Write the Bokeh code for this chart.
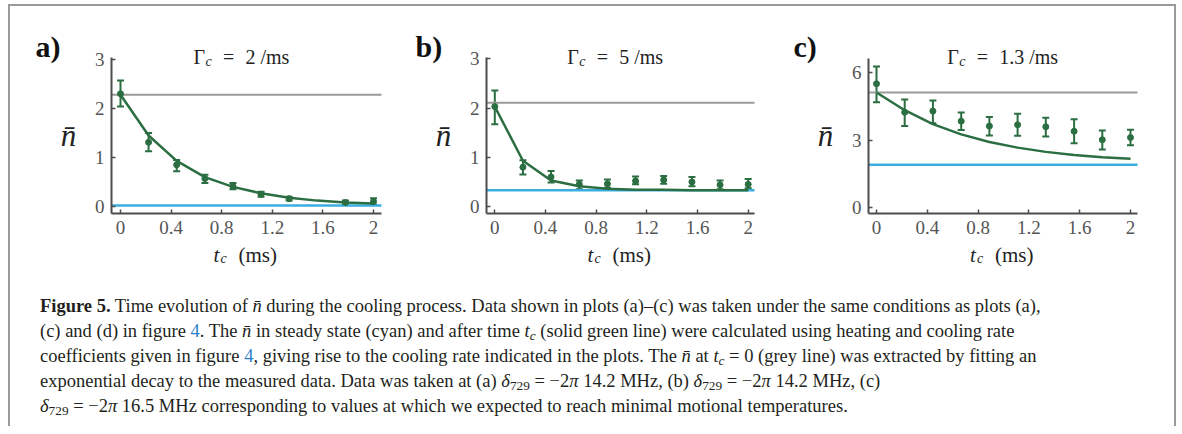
from bokeh.plotting import figure
from bokeh.models import (Whisker, TeeHead, ColumnDataSource, FixedTicker,
                          CustomJSTickFormatter, Label, Div, Range1d)
from bokeh.layouts import row, column
from bokeh.embed import file_html
from bokeh.resources import INLINE

# ---------------- data ----------------
t_all = [0.0, 0.222, 0.444, 0.667, 0.889, 1.111, 1.333, 1.556, 1.778, 2.0]

t_a = [0.0, 0.222, 0.444, 0.667, 0.889, 1.111, 1.333, 1.778, 2.0]
n_a = [2.30, 1.31, 0.85, 0.57, 0.41, 0.25, 0.16, 0.08, 0.10]
lo_a = [2.04, 1.13, 0.72, 0.48, 0.35, 0.20, 0.12, 0.04, 0.04]
hi_a = [2.57, 1.50, 0.95, 0.65, 0.48, 0.30, 0.20, 0.12, 0.17]
curve_a = [2.28, 1.45, 0.93, 0.60, 0.40, 0.27, 0.18, 0.12, 0.08, 0.06]
grey_a = 2.28
cyan_a = 0.02

t_b = t_all
n_b = [2.03, 0.80, 0.60, 0.45, 0.46, 0.52, 0.54, 0.50, 0.44, 0.45]
lo_b = [1.67, 0.65, 0.49, 0.35, 0.38, 0.45, 0.46, 0.41, 0.35, 0.37]
hi_b = [2.36, 0.94, 0.72, 0.53, 0.55, 0.61, 0.62, 0.60, 0.53, 0.56]
curve_b = [2.03, 0.93, 0.53, 0.41, 0.36, 0.34, 0.34, 0.33, 0.33, 0.33]
grey_b = 2.11
cyan_b = 0.33

t_c = t_all
n_c = [5.51, 4.24, 4.29, 3.84, 3.62, 3.68, 3.59, 3.39, 3.01, 3.11]
lo_c = [4.69, 3.63, 3.75, 3.45, 3.20, 3.19, 3.16, 2.86, 2.58, 2.77]
hi_c = [6.28, 4.81, 4.76, 4.23, 4.03, 4.17, 3.99, 3.93, 3.42, 3.46]
curve_c = [5.12, 4.33, 3.71, 3.25, 2.91, 2.66, 2.47, 2.33, 2.23, 2.16]
grey_c = 5.12
cyan_c = 1.90

x_ticks = [0, 0.4, 0.8, 1.2, 1.6, 2.0]
y_ticks_ab = [0, 1, 2, 3]
y_ticks_c = [0, 3, 6]

panel_letters = ["a)", "b)", "c)"]
rates = ["2 /ms", "5 /ms", "1.3 /ms"]

GREEN = "#2b6e42"
CYAN = "#3aaee0"
GREY = "#9a9a9a"
AXIS = "#4d4d4d"
TICKLAB = "#555555"
SERIF = "Liberation Serif"

# page geometry
OY = 6          # top of the figure row (page px)
FIG_H = 270
LAB_DY = -8     # baseline correction for labels


def make_panel(idx, fig_left, fig_right, x0_px, ppm, zero_py, ppu,
               spine_px, right_px, top_py, bottom_py, yt,
               t, n, lo, hi, curve, grey, cyan, gamma_x, letter_x):
    fig_w = fig_right - fig_left
    xr = Range1d((fig_left - x0_px) / ppm, (fig_right - x0_px) / ppm)
    yr = Range1d((zero_py - (OY + FIG_H)) / ppu, (zero_py - OY) / ppu)
    p = figure(width=fig_w, height=FIG_H, x_range=xr, y_range=yr,
               output_backend="svg", toolbar_location=None,
               min_border_left=0, min_border_right=0,
               min_border_top=0, min_border_bottom=0)
    p.outline_line_color = None
    p.grid.visible = False
    p.background_fill_color = "white"
    p.border_fill_color = "white"

    def dx(px):
        return (px - x0_px) / ppm

    def dy(py):
        return (zero_py - py) / ppu

    ax_x = dx(spine_px)
    ax_right = dx(right_px)
    ax_y = dy(bottom_py)
    ax_top = dy(top_py)

    for ax in (p.xaxis[0], p.yaxis[0]):
        ax.axis_line_color = AXIS
        ax.axis_line_width = 2
        ax.major_tick_line_color = AXIS
        ax.major_tick_line_width = 1.5
        ax.major_tick_in = 4
        ax.major_tick_out = 0
        ax.minor_tick_line_color = None
        ax.major_label_text_font = SERIF
        ax.major_label_text_font_size = "19px"
        ax.major_label_text_color = TICKLAB
        ax.major_label_standoff = 7
    p.xaxis.ticker = FixedTicker(ticks=x_ticks)
    p.xaxis.formatter = CustomJSTickFormatter(code="return String(Math.round(tick*10)/10);")
    p.yaxis.ticker = FixedTicker(ticks=yt)
    p.xaxis.fixed_location = ax_y
    p.xaxis.bounds = (ax_x, ax_right)
    p.yaxis.fixed_location = ax_x
    p.yaxis.bounds = (ax_y, ax_top)

    # n at t_c = 0 (grey) and steady state (cyan)
    p.segment(x0=[ax_x], x1=[ax_right], y0=[grey], y1=[grey], line_color=GREY, line_width=2)
    p.segment(x0=[ax_x], x1=[ax_right], y0=[cyan], y1=[cyan], line_color=CYAN, line_width=2.5)

    p.line(t_all, curve, line_color=GREEN, line_width=2.5)
    src = ColumnDataSource(dict(t=t, n=n, lo=lo, hi=hi))
    p.add_layout(Whisker(source=src, base="t", upper="hi", lower="lo",
                         line_color=GREEN, line_width=2,
                         upper_head=TeeHead(size=7, line_color=GREEN, line_width=2),
                         lower_head=TeeHead(size=7, line_color=GREEN, line_width=2)))
    p.scatter("t", "n", source=src, size=6, color=GREEN)

    def lab(text, px, py, size, style="normal", align="left", color="#222222"):
        p.add_layout(Label(x=dx(px), y=dy(py + LAB_DY), text=text, text_font=SERIF,
                           text_font_size=size, text_font_style=style,
                           text_align=align, text_baseline="alphabetic",
                           text_color=color))

    lab(panel_letters[idx], letter_x, 54, "30px", "bold", color="#111111")
    # title  Γ_c = ...
    lab("\u0393", gamma_x, 64.5, "20px")
    lab("c", gamma_x + 12, 68.5, "14px", "italic")
    lab("=", gamma_x + 29.5, 64.5, "20px")
    lab(rates[idx], gamma_x + 52, 64.5, "20px")
    # y label n-bar
    lab("n\u0304", spine_px - 43, 143, "31px", "italic", "center")
    # x label t_c (ms)
    cx = (spine_px + right_px) / 2
    lab("t", cx - 33, 262, "21px", "italic")
    lab("c", cx - 26, 266, "14px", "italic")
    lab("(ms)", cx - 8, 262, "21px")
    return p


pa = make_panel(0, 10, 398, 120, 126.5, 206, 49, 111, 381, 57, 213, y_ticks_ab,
                t_a, n_a, lo_a, hi_a, curve_a, grey_a, cyan_a, 193, 35)
pb = make_panel(1, 398, 778, 494.3, 126.7, 206, 49.2, 486, 754, 57, 213, y_ticks_ab,
                t_b, n_b, lo_b, hi_b, curve_b, grey_b, cyan_b, 566.7, 415)
pc = make_panel(2, 778, 1164, 876, 127, 206.7, 22.4, 868, 1137, 58, 213, y_ticks_c,
                t_c, n_c, lo_c, hi_c, curve_c, grey_c, cyan_c, 946.7, 793)

SUB = "<span style='position:relative; top:0.28em; font-size:0.72em; line-height:0;'>{}</span>"
d = "<i>\u03b4</i>" + SUB.format("729")
tc = "<i>t</i>" + SUB.format("<i>c</i>")
nb = "<i>n\u0304</i>"
four = "<span style='color:#2a7fcb'>4</span>"
caption_html = (
    "<div style=\"font-family:'Liberation Serif'; font-size:18.5px; line-height:25px; "
    "padding:12.5px 0 0 25px; white-space:nowrap; color:#231f20;\">"
    "<b>Figure 5.</b> Time evolution of " + nb + " during the cooling process. "
    "Data shown in plots (a)\u2013(c) was taken under the same conditions as plots (a),<br>"
    "(c) and (d) in figure " + four + ". The " + nb + " in steady state (cyan) "
    "and after time " + tc + " (solid green line) were calculated using heating and cooling rate<br>"
    "coefficients given in figure " + four + ", giving rise to the cooling rate "
    "indicated in the plots. The " + nb + " at " + tc + " = 0 (grey line) was extracted by fitting an<br>"
    "exponential decay to the measured data. Data was taken at (a) " + d + " = \u22122<i>\u03c0</i> 14.2 MHz, (b) "
    + d + " = \u22122<i>\u03c0</i> 14.2 MHz, (c)<br>"
    + d + " = \u22122<i>\u03c0</i> 16.5 MHz corresponding to values at which we expected to reach minimal "
    "motional temperatures."
    "</div>"
)
caption = Div(text=caption_html, width=1154, height=140)

layout = column(row(pa, pb, pc), caption,
                styles={"border": "2px solid #9a9a9a", "border-bottom": "none",
                        "margin-left": "8px", "margin-top": "4px", "background": "white"})

open("out.html", "w").write(file_html(layout, INLINE))
